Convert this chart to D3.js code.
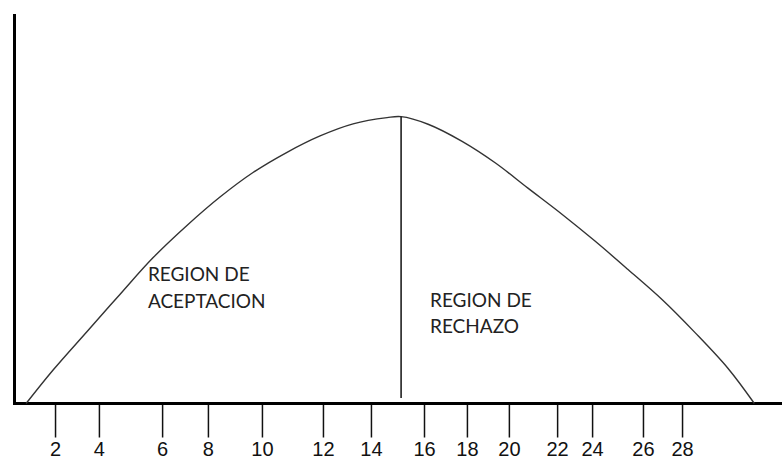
<!DOCTYPE html>
<html>
<head>
<meta charset="utf-8">
<script src="https://cdn.jsdelivr.net/npm/d3@7"></script>
<style>
  body { margin: 0; background: #fff; }
  svg { display: block; }
</style>
</head>
<body>
<div class="canva"></div>
<script>
// valores (eje x en unidades, eje y en % de la altura)
const tickLabels = ["2", "4", "6", "8", "10", "12", "14", "16", "18", "20", "22", "24", "26", "28"];
// las marcas estan dibujadas a mano, por eso no caen exactamente en su valor
const tickAt = [2, 3.82, 6.44, 8.34, 10.58, 13.11, 15.1, 17.3, 19.08, 20.82, 22.82, 24.27, 26.38, 28];

const curveX = [0.8, 1.92, 3.33, 4.69, 6.06, 7.47, 8.84, 10.21, 11.62, 12.99, 14.36, 15.77, 16.35,
  17.47, 18.88, 20.25, 21.61, 23.02, 24.39, 25.76, 27.17, 28.54, 29.91, 31.0];
const curveY = [0, 8.6, 18.5, 28.0, 37.4, 45.7, 53.0, 59.3, 64.5, 68.7, 71.8, 73.4, 73.65,
  71.7, 67.3, 61.8, 55.3, 48.6, 41.7, 34.4, 26.7, 18.2, 9.0, 0];

const criticalValue = 16.35;
const regionLabels = [["REGION DE", "ACEPTACION"], ["REGION DE", "RECHAZO"]];

document.addEventListener("DOMContentLoaded", function () {
  const width = 782, height = 460;

  const svg = d3.select(".canva")
    .append("svg")
    .attr("width", width)
    .attr("height", height);

  const x = d3.scaleLinear().domain([0, 32]).range([6.8, 778.5]);
  const y = d3.scaleLinear().domain([0, 100]).range([403.5, 14]);

  // eje x con las marcas
  const xAxis = d3.axisBottom(x)
    .tickValues(tickAt)
    .tickFormat((d, i) => tickLabels[i])
    .tickSizeOuter(0)
    .tickSize(34)
    .tickPadding(4);

  const gx = svg.append("g")
    .attr("transform", `translate(0,${y(0)})`)
    .call(xAxis);
  gx.select(".domain").remove();
  gx.selectAll(".tick line").attr("stroke", "#111").attr("stroke-width", 1.5);
  gx.selectAll(".tick text")
    .attr("fill", "#111")
    .style("font-family", "'Liberation Sans', Arial, sans-serif")
    .style("font-size", "20px");

  // ejes gruesos
  svg.append("line")
    .attr("x1", 13).attr("x2", width)
    .attr("y1", y(0)).attr("y2", y(0))
    .attr("stroke", "#000").attr("stroke-width", 3);
  svg.append("line")
    .attr("x1", 14.5).attr("x2", 14.5)
    .attr("y1", y(100)).attr("y2", y(0) + 1.5)
    .attr("stroke", "#000").attr("stroke-width", 3);

  // curva
  const pts = curveX.map((d, i) => [d, curveY[i]]);
  const line = d3.line()
    .x(d => x(d[0]))
    .y(d => y(d[1]))
    .curve(d3.curveCatmullRom.alpha(0.5));

  svg.append("path")
    .datum(pts)
    .attr("d", line)
    .attr("fill", "none")
    .attr("stroke", "#333")
    .attr("stroke-width", 1.4);

  // linea divisoria
  svg.append("line")
    .attr("x1", x(criticalValue)).attr("x2", x(criticalValue))
    .attr("y1", y(73.65)).attr("y2", y(1.4))
    .attr("stroke", "#111").attr("stroke-width", 1.5);

  // textos de las regiones
  const labelPos = [[5.85, 31.5], [17.55, 24.9]];
  const lineGap = [27, 26];
  regionLabels.forEach((lines, k) => {
    const t = svg.append("text")
      .attr("x", x(labelPos[k][0]))
      .attr("y", y(labelPos[k][1]))
      .attr("fill", "#222")
      .style("font-family", "Lato, 'Open Sans', sans-serif")
      .style("font-size", "19px");
    lines.forEach((s, j) => {
      t.append("tspan")
        .attr("x", x(labelPos[k][0]))
        .attr("dy", j === 0 ? 0 : lineGap[k])
        .text(s);
    });
  });
});
</script>
</body>
</html>
